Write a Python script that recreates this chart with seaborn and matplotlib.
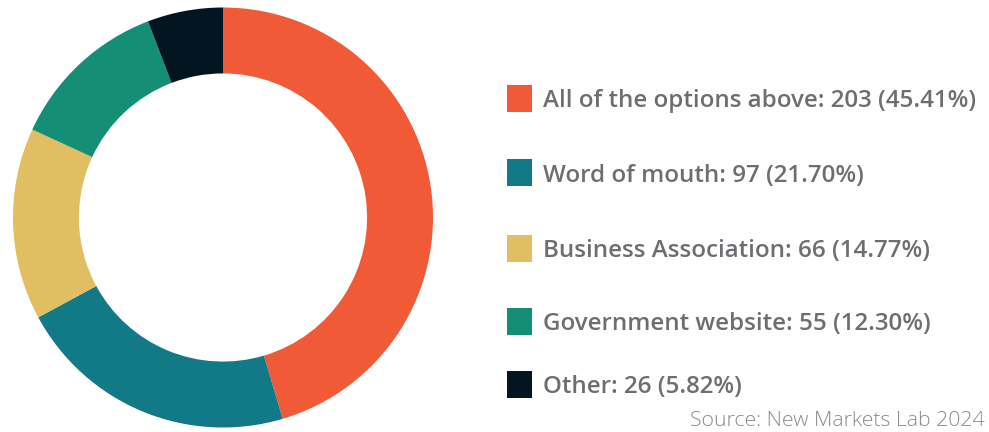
import matplotlib
matplotlib.use("Agg")
import matplotlib.pyplot as plt
import seaborn as sns
from matplotlib.patches import Rectangle

categories = ["All of the options above", "Word of mouth", "Business Association",
              "Government website", "Other"]
counts = [203, 97, 66, 55, 26]
percents = [45.41, 21.70, 14.77, 12.30, 5.82]
colors = ["#F05A37", "#127A87", "#E2BE62", "#148F76", "#021520"]
source = "Source: New Markets Lab 2024"

sns.set_theme(style="white")
plt.rcParams['font.family'] = ['Open Sans', 'DejaVu Sans']

W, H = 989, 432
fig = plt.figure(figsize=(W / 100, H / 100), dpi=100)
fig.patch.set_facecolor("white")

cx, cy, R = 223, 217.5, 210
ax = fig.add_axes([(cx - R) / W, (H - cy - R) / H, 2 * R / W, 2 * R / H])
ax.pie(counts, colors=colors, startangle=90, counterclock=False, radius=1,
       wedgeprops=dict(width=0.314, linewidth=0))
ax.set_xlim(-1, 1)
ax.set_ylim(-1, 1)
ax.set_aspect("equal")
ax.axis("off")

row_y = [98, 173, 248, 321, 384]
text_color = "#6D6E71"
for cat, n, p, c, y in zip(categories, counts, percents, colors, row_y):
    fig.patches.append(Rectangle((507 / W, (H - y - 13.5) / H), 25 / W, 27 / H,
                                 transform=fig.transFigure, facecolor=c,
                                 edgecolor="none", figure=fig))
    fig.text(543 / W, (H - y - 3) / H, f"{cat}: {n} ({p:.2f}%)", fontsize=17.4,
             fontweight=600, color=text_color, ha="left", va="center")

fig.text(985 / W, (H - 421) / H, source, fontsize=15.3, fontweight=300,
         color="#8A8A8A", ha="right", va="center")

fig.savefig("out.png", dpi=100, facecolor="white")
